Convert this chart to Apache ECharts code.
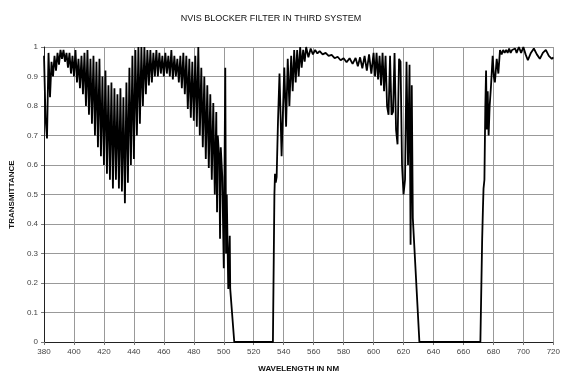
<!DOCTYPE html>
<html>
<head>
<meta charset="utf-8">
<script src="https://cdn.jsdelivr.net/npm/echarts@6/dist/echarts.min.js"></script>
<style>
  html, body { margin: 0; padding: 0; background: #fff; }
  #chart { width: 563px; height: 378px; }
</style>
</head>
<body>
<div id="chart"></div>
<script>
// [wavelength nm, transmittance], left to right
const blueBand = [
  [380, 0.97], [381, 0.76], [382, 0.69], [383, 0.98], [384, 0.83], [385, 0.95],
  [386, 0.90], [387, 0.97], [388, 0.92], [389, 0.98], [390, 0.94], [391, 0.99],
  [392, 0.96], [393, 0.99], [394, 0.95], [395, 0.98], [396, 0.93], [397, 0.98],
  [398, 0.91], [399, 0.97], [400, 0.90], [401, 0.99], [402, 0.88], [403, 0.96],
  [404, 0.86], [405, 0.97], [406, 0.84], [407, 0.98], [408, 0.80], [409, 0.99],
  [410, 0.77], [411, 0.96], [412, 0.74], [413, 0.97], [414, 0.70], [415, 0.95],
  [416, 0.66], [417, 0.96], [418, 0.63], [419, 0.90], [420, 0.60], [421, 0.92],
  [422, 0.57], [423, 0.87], [424, 0.55], [425, 0.88], [426, 0.52], [427, 0.86],
  [428, 0.55], [429, 0.84], [430, 0.52], [431, 0.86], [432, 0.51], [433, 0.83],
  [434, 0.47], [435, 0.88], [436, 0.54], [437, 0.93], [438, 0.60], [439, 0.97],
  [440, 0.62], [441, 0.99], [442, 0.70], [443, 1.00], [444, 0.74], [445, 1.00],
  [446, 0.80], [447, 1.00], [448, 0.84], [449, 0.99], [450, 0.87], [451, 0.99],
  [452, 0.88], [453, 0.98], [454, 0.90], [455, 0.99], [456, 0.90], [457, 0.98],
  [458, 0.91], [459, 0.97], [460, 0.90], [461, 0.98], [462, 0.91], [463, 0.97],
  [464, 0.90], [465, 0.99], [466, 0.89], [467, 0.97], [468, 0.90], [469, 0.96],
  [470, 0.88], [471, 0.97], [472, 0.86], [473, 0.98], [474, 0.84], [475, 0.97],
  [476, 0.79], [477, 0.96], [478, 0.76], [479, 0.95], [480, 0.75], [481, 0.97],
  [482, 0.73], [483, 1.00], [484, 0.70], [485, 0.93], [486, 0.66], [487, 0.90],
  [488, 0.62], [489, 0.87], [490, 0.59], [491, 0.84], [492, 0.55], [493, 0.81],
  [494, 0.50], [495, 0.78], [495.5, 0.44], [496, 0.70], [497, 0.62], [497.5, 0.35],
  [498, 0.66], [499, 0.56], [500, 0.25], [501, 0.93], [501.5, 0.30], [502, 0.50],
  [503, 0.18], [504, 0.36], [504.3, 0.18], [507, 0.00]
]

const greenStop = [[507, 0.00], [532.8, 0.00]]

const yellowBand = [
  [533, 0.10], [533.4, 0.30], [533.8, 0.50], [534.2, 0.57], [534.7, 0.54],
  [535.3, 0.56], [536.2, 0.75], [537.2, 0.91], [538.6, 0.63], [540.4, 0.93],
  [541.6, 0.73], [542.7, 0.96], [543.8, 0.80], [545, 0.97], [546, 0.85],
  [547, 0.99], [548, 0.88], [549, 0.99], [550, 0.90], [551, 1.00], [552, 0.93],
  [553, 0.99], [554, 0.95], [555, 1.00], [556.5, 0.965], [558, 0.995], [559.5, 0.975],
  [561, 0.99], [562.5, 0.978], [564, 0.986], [566, 0.975], [568, 0.98], [570, 0.97],
  [572, 0.973], [574, 0.962], [576, 0.967], [578, 0.955], [580, 0.962], [582, 0.948],
  [584, 0.962], [586, 0.943], [588, 0.963], [589.5, 0.935], [591, 0.965], [592.5, 0.928],
  [594, 0.97], [595.5, 0.92], [597, 0.975], [598.5, 0.91], [600, 0.98],
  [601, 0.90], [602, 0.98], [603, 0.89], [604, 0.97], [605, 0.87], [606, 0.98],
  [607, 0.85], [608, 0.97], [609, 0.80], [610, 0.77], [611, 0.97], [612, 0.77],
  [613, 0.78], [614, 0.98], [615, 0.72], [616, 0.67], [617, 0.96], [618, 0.95],
  [619, 0.60], [620, 0.50], [621, 0.55], [622, 0.95], [623, 0.60], [624, 0.94],
  [624.7, 0.33], [625.5, 0.87], [626.2, 0.42], [630.6, 0.00]
]

const redStop = [[630.6, 0.00], [671.3, 0.00]]

const redBand = [
  [672.5, 0.35], [673, 0.45], [673.4, 0.52], [674, 0.55], [674.6, 0.80],
  [675.1, 0.92], [675.6, 0.72], [676.2, 0.85], [676.8, 0.70], [677.5, 0.80],
  [678.3, 0.86], [679.5, 0.97], [680.3, 0.90], [681, 0.88], [682.2, 0.96],
  [683.3, 0.91], [684.4, 0.99], [685.5, 0.975], [686.5, 0.99], [687.5, 0.98],
  [688.5, 0.99], [689.5, 0.98], [690.5, 0.995], [691.5, 0.98], [692.5, 0.99],
  [693.5, 0.985], [694.5, 0.995], [695.5, 0.98], [697, 1.00], [698.5, 0.98],
  [700, 1.00], [701.5, 0.975], [703, 0.955], [705, 0.98], [707, 0.995],
  [709, 0.975], [711, 0.96], [713, 0.98], [715, 0.99], [717, 0.97],
  [719, 0.96], [720, 0.965]
]

const curve = [...blueBand, ...greenStop.slice(1), ...yellowBand, ...redStop.slice(1), ...redBand]

const chart = echarts.init(document.getElementById('chart'), null, { renderer: 'canvas' })

const labelFont = { fontFamily: 'Liberation Sans, Arial, sans-serif', fontSize: 8, color: '#444' }
const nameFont = { fontFamily: 'Liberation Sans, Arial, sans-serif', fontSize: 8, fontWeight: 'bold', color: '#111' }

chart.setOption({
  animation: false,
  backgroundColor: '#fff',
  title: {
    text: 'NVIS BLOCKER FILTER IN THIRD SYSTEM',
    left: 266,
    top: 9,
    textAlign: 'center',
    textStyle: {
      fontFamily: 'Liberation Sans, Arial, sans-serif',
      fontSize: 9,
      fontWeight: 'normal',
      color: '#111',
    },
  },
  grid: {
    left: 41,
    right: 6,
    top: 47,
    bottom: 32,
  },
  xAxis: {
    type: 'value',
    min: 380,
    max: 720,
    interval: 20,
    name: 'WAVELENGTH IN NM',
    nameLocation: 'middle',
    nameGap: 23,
    nameTextStyle: nameFont,
    axisLine: { lineStyle: { color: '#222', width: 1 } },
    axisTick: { show: true, length: 3, lineStyle: { color: '#777' } },
    axisLabel: { ...labelFont, margin: 6 },
    splitLine: { show: true, lineStyle: { color: '#999', width: 1 } },
  },
  yAxis: {
    type: 'value',
    min: 0,
    max: 1,
    interval: 0.1,
    name: 'TRANSMITTANCE',
    nameLocation: 'middle',
    nameGap: 24,
    nameTextStyle: nameFont,
    axisLine: { show: true, lineStyle: { color: '#222', width: 1 } },
    axisTick: { show: true, length: 3, lineStyle: { color: '#777' } },
    axisLabel: { ...labelFont, margin: 6 },
    splitLine: { show: true, lineStyle: { color: '#999', width: 1 } },
  },
  series: [
    {
      type: 'line',
      data: curve,
      showSymbol: false,
      lineStyle: { color: '#000', width: 1.8 },
      itemStyle: { color: '#000' },
    },
  ],
})
</script>
</body>
</html>
